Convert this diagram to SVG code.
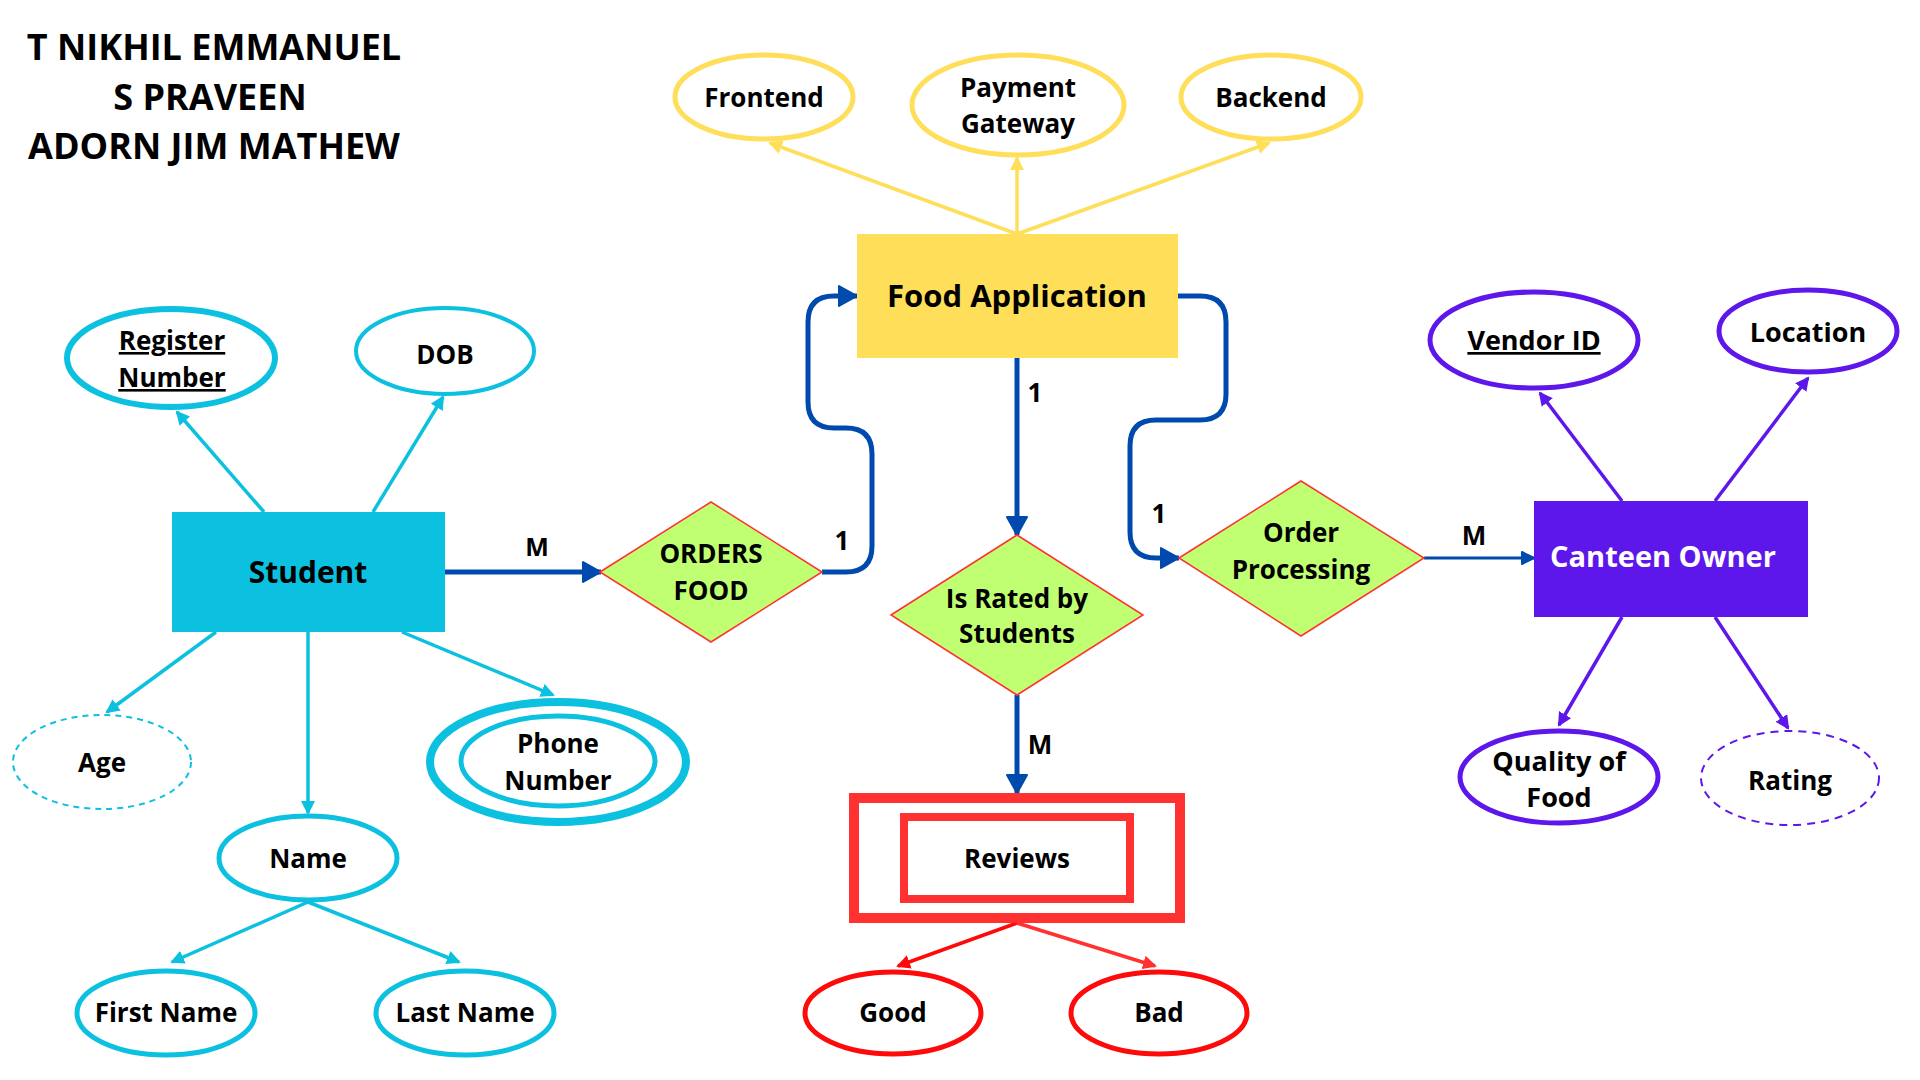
<svg xmlns="http://www.w3.org/2000/svg" width="1920" height="1080" viewBox="0 0 1920 1080">
<style>
text{font-family:"Open Sans","Liberation Sans",sans-serif;font-weight:700;fill:#000;text-anchor:middle}
.t{font-size:36px}
.n26{font-size:26px}
.cy{fill:#fff;stroke:#0CC0DF;stroke-width:5}
.ye{fill:#fff;stroke:#FFDE59;stroke-width:5}
.pu{fill:#fff;stroke:#5E17EB;stroke-width:5}
.rd{fill:#fff;stroke:#FF0A0A;stroke-width:5}
.dia{fill:#C1FF72;stroke:#FF3131;stroke-width:1.5}
.lc{stroke:#0CC0DF;stroke-width:3.5;fill:none;marker-end:url(#mc)}
.ly{stroke:#FFDE59;stroke-width:3.5;fill:none;marker-end:url(#my)}
.lp{stroke:#5E17EB;stroke-width:3.5;fill:none;marker-end:url(#mp)}
.lr{stroke:#FF0A0A;stroke-width:3.5;fill:none;marker-end:url(#mr)}
.lb{stroke:#004AAD;stroke-width:5;fill:none;marker-end:url(#mb)}
</style>
<defs>
<marker id="mc" markerUnits="userSpaceOnUse" viewBox="0 0 14 14" refX="12" refY="7" markerWidth="14" markerHeight="14" orient="auto"><path d="M0,0 L14,7 L0,14 z" fill="#0CC0DF"/></marker>
<marker id="my" markerUnits="userSpaceOnUse" viewBox="0 0 14 14" refX="12" refY="7" markerWidth="14" markerHeight="14" orient="auto"><path d="M0,0 L14,7 L0,14 z" fill="#FFDE59"/></marker>
<marker id="mp" markerUnits="userSpaceOnUse" viewBox="0 0 14 14" refX="12" refY="7" markerWidth="14" markerHeight="14" orient="auto"><path d="M0,0 L14,7 L0,14 z" fill="#5E17EB"/></marker>
<marker id="mr" markerUnits="userSpaceOnUse" viewBox="0 0 14 14" refX="12" refY="7" markerWidth="14" markerHeight="14" orient="auto"><path d="M0,0 L14,7 L0,14 z" fill="#FF0A0A"/></marker>
<marker id="mr2" markerUnits="userSpaceOnUse" viewBox="0 0 14 14" refX="12" refY="7" markerWidth="14" markerHeight="14" orient="auto"><path d="M0,0 L14,7 L0,14 z" fill="#FF3131"/></marker>
<marker id="mb" markerUnits="userSpaceOnUse" viewBox="0 0 20 22" refX="19" refY="11" markerWidth="20" markerHeight="22" orient="auto"><path d="M1,1 L19,11 L1,21 z" fill="#004AAD" stroke="#004AAD" stroke-width="2" stroke-linejoin="round"/></marker>
<marker id="mbs" markerUnits="userSpaceOnUse" viewBox="0 0 14 14" refX="13" refY="7" markerWidth="14" markerHeight="14" orient="auto"><path d="M1,1 L13,7 L1,13 z" fill="#004AAD" stroke="#004AAD" stroke-width="2" stroke-linejoin="round"/></marker>
</defs>
<rect width="1920" height="1080" fill="#fff"/>

<g id="title">
<text class="t" x="214" y="60">T NIKHIL EMMANUEL</text>
<text class="t" x="210" y="110">S PRAVEEN</text>
<text class="t" x="214" y="159">ADORN JIM MATHEW</text>
</g>

<g id="connectors">
<line class="ly" x1="1017" y1="234" x2="770" y2="143"/>
<line class="ly" x1="1017" y1="234" x2="1017" y2="158"/>
<line class="ly" x1="1017" y1="234" x2="1269" y2="143"/>
<line class="lc" x1="264" y1="512" x2="177" y2="412"/>
<line class="lc" x1="373" y1="512" x2="443" y2="397"/>
<line class="lc" x1="216" y1="632" x2="107" y2="712"/>
<line class="lc" x1="308" y1="632" x2="308" y2="813"/>
<line class="lc" x1="402" y1="632" x2="553" y2="695"/>
<line class="lc" x1="308" y1="902" x2="172" y2="962"/>
<line class="lc" x1="308" y1="902" x2="459" y2="962"/>
<line class="lp" x1="1622" y1="501" x2="1540" y2="393"/>
<line class="lp" x1="1715" y1="501" x2="1808" y2="378"/>
<line class="lp" x1="1622" y1="617" x2="1559" y2="725"/>
<line class="lp" x1="1715" y1="617" x2="1788" y2="728"/>
<line class="lr" x1="1017" y1="923" x2="898" y2="966"/>
<line x1="1017" y1="923" x2="1155" y2="966" stroke="#FF3131" stroke-width="3.5" marker-end="url(#mr2)"/>
<line class="lb" x1="445" y1="572" x2="601" y2="572"/>
<path class="lb" d="M 822 572 H 846 Q 872 572 872 546 V 454 Q 872 428 846 428 H 834 Q 808 428 808 402 V 322 Q 808 296 834 296 H 857"/>
<path class="lb" d="M 1178 296 H 1200 Q 1226 296 1226 322 V 394 Q 1226 420 1200 420 H 1156 Q 1130 420 1130 446 V 532 Q 1130 558 1156 558 H 1179"/>
<line class="lb" x1="1017" y1="358" x2="1017" y2="535"/>
<line class="lb" x1="1017" y1="695" x2="1017" y2="793"/>
<line x1="1424" y1="558" x2="1534" y2="558" stroke="#004AAD" stroke-width="3" marker-end="url(#mbs)"/>
<text class="n26" x="537" y="556" style="font-size:25px">M</text>
<text class="n26" x="842" y="550">1</text>
<text class="n26" x="1035" y="402">1</text>
<text class="n26" x="1159" y="523">1</text>
<text class="n26" x="1474" y="545">M</text>
<text class="n26" x="1040" y="754">M</text>
</g>

<g id="frontend"><ellipse class="ye" cx="764" cy="97" rx="89" ry="42"/><text class="n26" x="764" y="107">Frontend</text></g>
<g id="payment-gateway"><ellipse class="ye" cx="1018" cy="105" rx="106" ry="50"/><text class="n26" x="1018" y="97">Payment</text><text class="n26" x="1018" y="133">Gateway</text></g>
<g id="backend"><ellipse class="ye" cx="1271" cy="97" rx="90" ry="42"/><text class="n26" x="1271" y="107">Backend</text></g>

<g id="food-application"><rect x="857" y="234" width="321" height="124" fill="#FFDE59"/><text x="1017" y="307" style="font-size:31px">Food Application</text></g>

<g id="student"><rect x="172" y="512" width="273" height="120" fill="#0CC0DF"/><text x="308" y="583" style="font-size:30px">Student</text></g>
<g id="register-number"><ellipse class="cy" cx="171" cy="358" rx="104" ry="49" style="stroke-width:6"/><text class="n26" x="172" y="350" text-decoration="underline">Register</text><text class="n26" x="172" y="387" text-decoration="underline">Number</text></g>
<g id="dob"><ellipse class="cy" cx="445" cy="351" rx="89" ry="43" style="stroke-width:4"/><text class="n26" x="445" y="364">DOB</text></g>
<g id="age"><ellipse cx="102" cy="762" rx="89" ry="47" fill="#fff" stroke="#0CC0DF" stroke-width="2" stroke-dasharray="6 5"/><text class="n26" x="102" y="772">Age</text></g>
<g id="phone-number"><ellipse cx="558" cy="762" rx="128" ry="60" fill="#fff" stroke="#0CC0DF" stroke-width="8"/><ellipse class="cy" cx="558" cy="761" rx="97" ry="45"/><text class="n26" x="558" y="753">Phone</text><text class="n26" x="558" y="790">Number</text></g>
<g id="name"><ellipse class="cy" cx="308" cy="858" rx="89" ry="42"/><text class="n26" x="308" y="868">Name</text></g>
<g id="first-name"><ellipse class="cy" cx="166" cy="1013" rx="89" ry="42"/><text class="n26" x="166" y="1022">First Name</text></g>
<g id="last-name"><ellipse class="cy" cx="465" cy="1013" rx="89" ry="42"/><text class="n26" x="465" y="1022">Last Name</text></g>

<g id="orders-food"><polygon class="dia" points="600,572 711,502 822,572 711,642"/><text class="n26" x="711" y="563">ORDERS</text><text class="n26" x="711" y="600">FOOD</text></g>
<g id="is-rated-by-students"><polygon class="dia" points="891,615 1017,535 1143,615 1017,695"/><text class="n26" x="1017" y="608">Is Rated by</text><text class="n26" x="1017" y="643">Students</text></g>
<g id="order-processing"><polygon class="dia" points="1179,558 1301,481 1424,558 1301,636"/><text class="n26" x="1301" y="542">Order</text><text class="n26" x="1301" y="579">Processing</text></g>

<g id="reviews"><rect x="854" y="798" width="326" height="120" fill="#fff" stroke="#FF3131" stroke-width="10"/><rect x="904" y="817" width="226" height="82" fill="#fff" stroke="#FF3131" stroke-width="8"/><text class="n26" x="1017" y="868">Reviews</text></g>
<g id="good"><ellipse class="rd" cx="893" cy="1013" rx="88" ry="41"/><text class="n26" x="893" y="1022">Good</text></g>
<g id="bad"><ellipse class="rd" cx="1159" cy="1013" rx="88" ry="41"/><text class="n26" x="1159" y="1022">Bad</text></g>

<g id="canteen-owner"><rect x="1534" y="501" width="274" height="116" fill="#5E17EB"/><text x="1663" y="567" style="font-size:29px;fill:#fff">Canteen Owner</text></g>
<g id="vendor-id"><ellipse class="pu" cx="1534" cy="340" rx="104" ry="48"/><text x="1534" y="350" style="font-size:27px" text-decoration="underline">Vendor ID</text></g>
<g id="location"><ellipse class="pu" cx="1808" cy="331" rx="89" ry="41"/><text x="1808" y="342" style="font-size:27px">Location</text></g>
<g id="quality-of-food"><ellipse class="pu" cx="1559" cy="777" rx="99" ry="46"/><text x="1559" y="771" style="font-size:27px">Quality of</text><text x="1559" y="807" style="font-size:27px">Food</text></g>
<g id="rating"><ellipse cx="1790" cy="778" rx="89" ry="47" fill="#fff" stroke="#5E17EB" stroke-width="2" stroke-dasharray="8 6"/><text class="n26" x="1790" y="790">Rating</text></g>
</svg>
